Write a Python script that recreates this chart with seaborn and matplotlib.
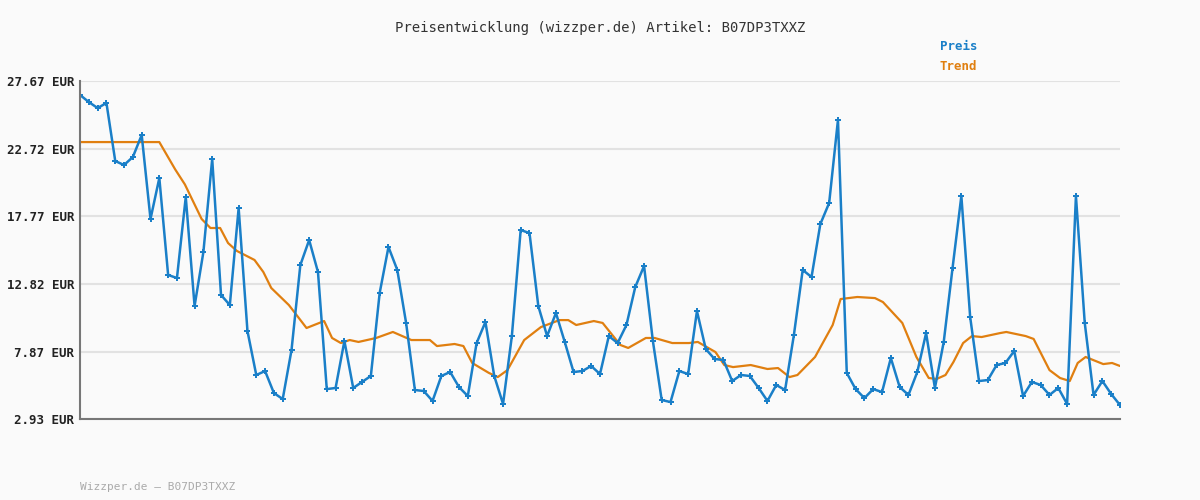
import matplotlib
matplotlib.use("Agg")
import matplotlib.pyplot as plt
import seaborn as sns
import pandas as pd
import numpy as np

price = [26.65,26.13,25.69,26.06,21.81,21.52,22.11,23.72,17.57,20.57,
         13.47,13.25,19.18,11.2,15.15,21.96,12.01,11.27,18.37,9.37,
         6.15,6.44,4.83,4.39,7.98,14.2,16.03,13.69,5.12,5.2,
         8.64,5.2,5.64,6.08,12.15,15.52,13.84,9.96,5.05,4.98,
         4.25,6.08,6.37,5.27,4.61,8.49,10.03,6.08,4.03,9.0,
         16.76,16.54,11.2,9.0,10.69,8.57,6.37,6.44,6.81,6.22,
         9.0,8.49,9.81,12.59,14.13,8.64,4.32,4.17,6.44,6.22,
         10.83,8.05,7.32,7.25,5.71,6.15,6.08,5.2,4.25,5.42,
         5.05,9.08,13.84,13.32,17.2,18.74,24.82,6.3,5.12,4.46,
         5.12,4.9,7.39,5.27,4.69,6.37,9.22,5.2,8.57,13.98,
         19.25,10.39,5.71,5.78,6.88,7.03,7.91,4.61,5.64,5.42,
         4.69,5.2,4.03,19.25,9.96,4.69,5.71,4.76,3.95]

trend_x = [0,9,10.8,11.9,13.8,14.8,15.9,16.8,17.8,19.8,20.8,21.7,23.7,25.7,27.7,28.6,29.6,30.6,31.6,33.6,
           35.5,37.6,39.7,40.5,42.5,43.5,44.5,46.4,47.4,48.5,50.4,52.3,54.4,55.4,56.3,58.3,59.3,61.3,62.2,64.2,
           65.2,67.2,69.1,70.1,71.1,72.1,73.1,74.1,76.1,78,79.2,80.5,81.4,83.4,85.4,86.3,88.2,90.2,91.1,93.3,
           94.9,96.3,97.2,98.2,99.1,100.2,101.2,102.3,104.4,105.1,107.3,108.2,110,111.2,112.3,113.2,114.1,116.1,117.1,118]
trend = [23.2,23.2,21.2,20.1,17.57,16.91,16.91,15.81,15.23,14.57,13.69,12.52,11.27,9.59,10.1,8.86,8.49,8.71,8.57,8.86,
         9.3,8.71,8.71,8.27,8.42,8.27,7.03,6.3,6.0,6.51,8.71,9.66,10.17,10.17,9.81,10.1,9.96,8.35,8.13,8.86,
         8.86,8.49,8.49,8.57,8.2,7.83,6.88,6.73,6.88,6.59,6.66,6.0,6.15,7.47,9.81,11.71,11.86,11.78,11.49,9.96,
         7.47,5.93,5.86,6.15,7.1,8.49,9.0,8.93,9.22,9.3,9.0,8.79,6.51,5.93,5.71,7.03,7.47,6.95,7.03,6.81]

yticks = [2.93, 7.87, 12.82, 17.77, 22.72, 27.67]
ytick_labels = [f"{v:.2f} EUR" for v in yticks]

sns.set_theme(style="white")
plt.rcParams['font.family'] = ['DejaVu Sans Mono']
blue = "#1a7fc8"
orange = "#e07f10"

fig = plt.figure(figsize=(12, 5), dpi=100, facecolor="#fafafa")
ax = fig.add_axes([80/1200, 1-419/500, 1040/1200, 338/500])
ax.set_facecolor("#fafafa")

dfp = pd.DataFrame({"x": np.arange(len(price)), "y": price})
dft = pd.DataFrame({"x": trend_x, "y": trend})
sns.lineplot(data=dft, x="x", y="y", ax=ax, color=orange, lw=1.6)
sns.lineplot(data=dfp, x="x", y="y", ax=ax, color=blue, lw=1.8, marker="P", markersize=4,
             markeredgewidth=0)

ax.set_xlim(0, len(price) - 1)
ax.set_ylim(2.93, 27.67)
ax.set_yticks(yticks)
ax.set_yticklabels(ytick_labels, fontsize=9, color="#222222", fontweight="bold")
ax.set_xticks([])
ax.set_xlabel(""); ax.set_ylabel("")
ax.grid(axis="y", color="#e2e2e2", lw=1.5)
ax.set_axisbelow(True)
for s in ["top", "right"]:
    ax.spines[s].set_visible(False)
for s in ["left", "bottom"]:
    ax.spines[s].set_color("#777777")
    ax.spines[s].set_linewidth(1.5)
ax.tick_params(axis="y", length=0, pad=4)

fig.text(0.5, 1-28/500, "Preisentwicklung (wizzper.de) Artikel: B07DP3TXXZ",
         ha="center", va="center", fontsize=10, color="#333333")
fig.text(940/1200, 1-47/500, "Preis", color=blue, fontsize=9, fontweight="bold", va="center")
fig.text(940/1200, 1-67/500, "Trend", color=orange, fontsize=9, fontweight="bold", va="center")
fig.text(80/1200, 1-487/500, "Wizzper.de – B07DP3TXXZ", color="#aaaaaa", fontsize=8, va="center")

fig.savefig("out.png", dpi=100, facecolor=fig.get_facecolor())
